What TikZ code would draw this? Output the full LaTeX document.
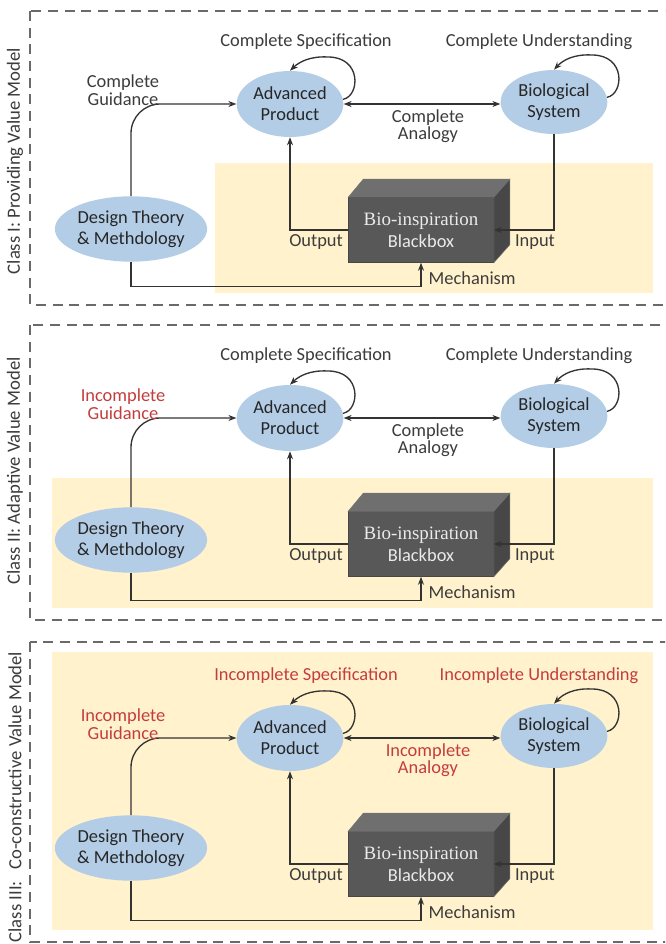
\documentclass[tikz,border=0pt]{standalone}
\usepackage{fontspec}
\setmainfont{Carlito}
\newfontfamily\bbserif{Liberation Serif}
\usetikzlibrary{shapes.geometric,arrows.meta,calc}
\definecolor{txt}{HTML}{3C3C3C}
\definecolor{myred}{HTML}{C43D3D}
\definecolor{ellfill}{HTML}{B3CDE6}
\definecolor{yel}{HTML}{FFF2CC}
\definecolor{lincol}{HTML}{333333}
\definecolor{dashcol}{HTML}{6A6A6A}
\definecolor{bbfrontc}{HTML}{585858}
\definecolor{bbtopc}{HTML}{6F6F6F}
\definecolor{bbsidec}{HTML}{474747}
\begin{document}
\begin{tikzpicture}[x=0.75pt,y=-0.75pt,
  ell/.style={ellipse, fill=ellfill, inner sep=0pt, align=center,
    font=\fontsize{13.8}{15.5}\selectfont, text=black!85},
  lbl/.style={align=center, font=\fontsize{13.8}{13.2}\selectfont, text=txt},
  side/.style={rotate=90, font=\fontsize{14}{16}\selectfont, text=txt},
  arr/.style={draw=lincol, line width=1pt, -{Stealth[length=6pt,width=4.5pt]}},
  arrtwo/.style={draw=lincol, line width=1pt, {Stealth[length=6pt,width=4.5pt]}-{Stealth[length=6pt,width=4.5pt]}},
  frame/.style={draw=dashcol, line width=1pt, dash pattern=on 7.5pt off 5pt},
  bbox/.style={rectangle, fill=bbfrontc, draw=bbsidec, line width=0.4pt,
    minimum width=108.75pt, minimum height=48.75pt, inner sep=0pt, align=center,
    text=black!8, font=\fontsize{13.8}{16.5}\selectfont},
  face/.style={draw=black!55, line width=0.4pt}
]
\useasboundingbox (0,0) rectangle (665,944);
\clip (0,0) rectangle (665,944);
\fill[white] (0,0) rectangle (665,944);

% yellow regions
\fill[yel] (215,163) rectangle (653,293);
\fill[yel] (52,478) rectangle (653,608);
\fill[yel] (52,652) rectangle (653,930);

% dashed frames
\draw[frame] (30,11) rectangle (700,305);
\draw[frame] (30,325) rectangle (700,620);
\draw[frame] (30,642) rectangle (700,942);

% side labels
\node[side] (lab1) at (15,161) {Class I: Providing Value Model};
\node[side] (lab2) at (15,471) {Class II: Adaptive Value Model};
\node[side] (lab3) at (15,797) {Class III:\hspace{0.4em} Co-constructive Value Model};

\foreach \n/\off/\dty/\gc/\gw/\sc/\sw/\ac/\aw in {
  a/0/229/txt/Complete/txt/Complete/txt/Complete,
  b/314/226/myred/Incomplete/txt/Complete/txt/Complete,
  c/634/214/myred/Incomplete/myred/Incomplete/myred/Incomplete}{
\begin{scope}[shift={(0,\off)}]
  \node[ell, minimum width=100.5pt, minimum height=49pt] (\n-dt) at (131,\dty) {Design Theory\\\& Methdology};
  \node[ell, minimum width=80pt, minimum height=49.5pt] (\n-ap) at (290,104) {Advanced\\Product};
  \node[ell, minimum width=80pt, minimum height=48pt] (\n-bs) at (554,102) {Biological\\System};
  % blackbox
  \node[bbox] (\n-bb) at (421,230) {{\bbserif\fontsize{14.2}{16.5}\selectfont Bio-inspiration}\\Blackbox};
  \filldraw[face, fill=bbtopc] (\n-bb.north west) -- ++(15,-18) -- ($(\n-bb.north east)+(16,-18)$) -- (\n-bb.north east) -- cycle;
  \filldraw[face, fill=bbsidec] (\n-bb.north east) -- ++(16,-18) -- ($(\n-bb.south east)+(16,-18)$) -- (\n-bb.south east) -- cycle;
  % connectors
  \draw[arr, rounded corners=22pt] (\n-dt.north) |- (\n-ap.west);
  \draw[arr] (\n-bb.west) -| (\n-ap.south);
  \draw[arr] (\n-bs.south) |- (\n-bb.east);
  \draw[arr] (\n-dt.south) |- ($(\n-bb.south)+(0,24)$) -- (\n-bb.south);
  \draw[arrtwo] (\n-ap.east) -- (\n-ap.east -| \n-bs.west);
  \draw[arr] (\n-ap.5) .. controls ($(\n-ap)+(70,-8)$) and ($(\n-ap)+(72,-47)$) .. ($(\n-ap)+(38,-47)$)
        .. controls ($(\n-ap)+(20,-48)$) and ($(\n-ap)+(9,-42)$) .. (\n-ap.north);
  \draw[arr] (\n-bs.5) .. controls ($(\n-bs)+(70,-8)$) and ($(\n-bs)+(72,-47)$) .. ($(\n-bs)+(38,-47)$)
        .. controls ($(\n-bs)+(20,-48)$) and ($(\n-bs)+(9,-42)$) .. (\n-bs.north);
  % labels
  \node[lbl, text=\gc] (\n-guid) at (123,90) {\gw\\Guidance};
  \node[lbl, text=\sc] (\n-spec) at (306,42) {\sw{} Specification};
  \node[lbl, text=\sc] (\n-und) at (539,42) {\sw{} Understanding};
  \node[lbl, text=\ac] (\n-ana) at (428,126) {\aw\\Analogy};
  \node[lbl] (\n-out) at (316,242) {Output};
  \node[lbl] (\n-in) at (535,242) {Input};
  \node[lbl, anchor=west] (\n-mech) at ($(\n-bb.south)+(3,15)$) {Mechanism};
\end{scope}
}
\end{tikzpicture}
\end{document}
